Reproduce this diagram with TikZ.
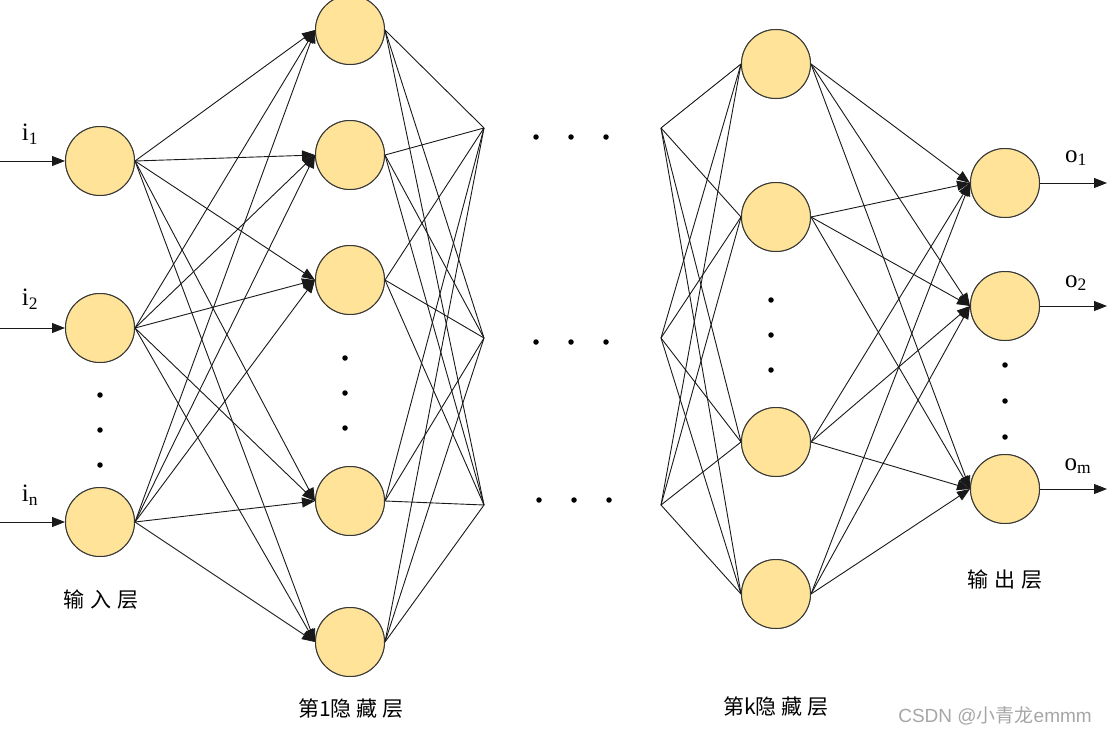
\documentclass[tikz,border=0pt]{standalone}
\usepackage{fontspec}
\setmainfont{Liberation Serif}
\newfontfamily\cjk{Noto Sans CJK SC}
\newfontfamily\wmfont{Liberation Sans}
\usetikzlibrary{arrows.meta}
\definecolor{nodefill}{RGB}{254,227,152}
\definecolor{nodeedge}{RGB}{55,55,55}
\begin{document}
\begin{tikzpicture}[x=1pt,y=-1pt,
  neuron/.style={circle,draw=nodeedge,line width=1pt,fill=nodefill,minimum size=69pt,inner sep=0pt},
  link/.style={draw=black!90,line width=0.9pt},
  arr/.style={link,-{Triangle[length=13pt,width=10pt]}},
  dotmark/.style={circle,fill=black,inner sep=0pt,minimum size=5.5pt},
  lbl/.style={font=\fontsize{25}{25}\selectfont,inner sep=0pt},
  cnlbl/.style={font=\cjk\fontsize{21}{21}\selectfont,inner sep=0pt}]
\useasboundingbox (0,0) rectangle (1107,736);
% input layer
\node[neuron] (i1) at (100,161) {};
\node[neuron] (i2) at (100,328) {};
\node[neuron] (i3) at (100,522) {};
% hidden layer 1
\node[neuron] (a1) at (350,30) {};
\node[neuron] (a2) at (350,155) {};
\node[neuron] (a3) at (350,280) {};
\node[neuron] (a4) at (350,501) {};
\node[neuron] (a5) at (350,642) {};
% convergence points
\coordinate (L1) at (484,128);
\coordinate (L2) at (484,338);
\coordinate (L3) at (484,505);
\coordinate (R1) at (661,128);
\coordinate (R2) at (661,338);
\coordinate (R3) at (661,505);
% hidden layer k
\node[neuron] (k1) at (776,64) {};
\node[neuron] (k2) at (776,217) {};
\node[neuron] (k3) at (776,442) {};
\node[neuron] (k4) at (776,594) {};
% output layer
\node[neuron] (o1) at (1005,183) {};
\node[neuron] (o2) at (1005,306) {};
\node[neuron] (o3) at (1005,489) {};
% connections
\foreach \s in {i1,i2,i3}{
  \foreach \t in {a1,a2,a3,a4,a5}{
    \draw[arr] (\s.east) -- (\t.west);
  }
}
\foreach \s in {a1,a2,a3,a4,a5}{
  \foreach \t in {L1,L2,L3}{
    \draw[link] (\s.east) -- (\t);
  }
}
\foreach \s in {R1,R2,R3}{
  \foreach \t in {k1,k2,k3,k4}{
    \draw[link] (\s) -- (\t.west);
  }
}
\foreach \s in {k1,k2,k3,k4}{
  \foreach \t in {o1,o2,o3}{
    \draw[arr] (\s.east) -- (\t.west);
  }
}
% redraw nodes on top
\foreach \n in {i1,i2,i3,a1,a2,a3,a4,a5,k1,k2,k3,k4,o1,o2,o3}{
  \path (\n.center) node[neuron] {};
}
% input and output arrows
\coordinate (s1) at (0,161);
\coordinate (s2) at (0,328);
\coordinate (s3) at (0,522);
\draw[arr] (s1) -- (i1.west);
\draw[arr] (s2) -- (i2.west);
\draw[arr] (s3) -- (i3.west);
\coordinate (t1) at (1107,183);
\coordinate (t2) at (1107,306);
\coordinate (t3) at (1107,489);
\draw[arr] (o1.east) -- (t1);
\draw[arr] (o2.east) -- (t2);
\draw[arr] (o3.east) -- (t3);
% labels
\node[lbl] (li1) at (30,134) {i\textsubscript{1}};
\node[lbl] (li2) at (30,299) {i\textsubscript{2}};
\node[lbl] (li3) at (30,495) {i\textsubscript{n}};
\node[lbl] (lo1) at (1076,158) {o\textsubscript{1}};
\node[lbl] (lo2) at (1076,283) {o\textsubscript{2}};
\node[lbl] (lo3) at (1078,466) {o\textsubscript{m}};
\node[cnlbl] (t_in) at (101,600) {输\hspace{6pt}入\hspace{6pt}层};
\node[cnlbl] (t_h1) at (351,709) {第1隐\hspace{5pt}藏\hspace{5pt}层};
\node[cnlbl] (t_hk) at (776,707) {第k隐\hspace{5pt}藏\hspace{5pt}层};
\node[cnlbl] (t_out) at (1005,580) {输\hspace{6pt}出\hspace{6pt}层};
% dots
\foreach \y [count=\j] in {395,430,465}{\node[dotmark] (di\j) at (100,\y) {};}
\foreach \y [count=\j] in {358,393,428}{\node[dotmark] (da\j) at (345,\y) {};}
\foreach \y [count=\j] in {300,335,370}{\node[dotmark] (dk\j) at (771,\y) {};}
\foreach \y [count=\j] in {365,401,437}{\node[dotmark] (do\j) at (1005,\y) {};}
\foreach \x [count=\j] in {536,571,606}{\node[dotmark] (dm1\j) at (\x,137) {};}
\foreach \x [count=\j] in {536,571,606}{\node[dotmark] (dm2\j) at (\x,342) {};}
\foreach \x [count=\j] in {539,574,609}{\node[dotmark] (dm3\j) at (\x,500) {};}
% watermark
\node[font=\fontsize{19}{19}\selectfont,text=black!35,inner sep=0pt] (wm) at (995,716) {{\wmfont CSDN @}{\cjk 小青龙}{\wmfont emmm}};
\end{tikzpicture}
\end{document}
